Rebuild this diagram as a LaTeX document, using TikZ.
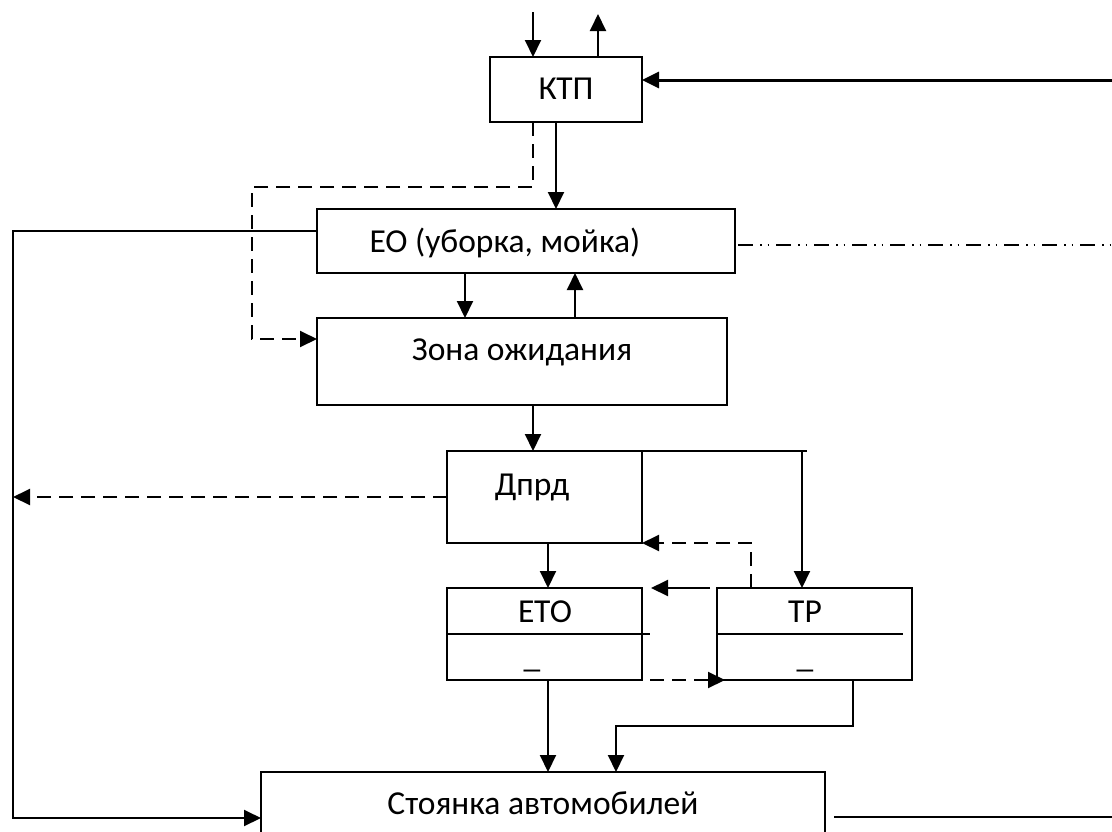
\documentclass[tikz,border=0pt]{standalone}
\usepackage{fontspec}
\setmainfont{Carlito}
\usetikzlibrary{arrows.meta}
\begin{document}
\begin{tikzpicture}[x=1pt,y=-1pt,
  box/.style={draw, line width=2pt, rectangle, inner sep=0pt, outer sep=0pt},
  lbl/.style={inner sep=0pt, font=\fontsize{33.5}{38}\selectfont},
  ln/.style={line width=2pt},
  arr/.style={ln, -{Triangle[length=17pt,width=16pt]}},
  dsh/.style={dash pattern=on 14pt off 8pt},
  dd/.style={line width=2pt, dash pattern=on 15pt off 7pt on 1.5pt off 6pt on 1.5pt off 7pt}]
\useasboundingbox (0,0) rectangle (1112,831);
\clip (0,0) rectangle (1112,831);
% boxes
\node[box, minimum width=152pt, minimum height=65pt] (ktp) at (566,89.5) {};
\node[box, minimum width=418pt, minimum height=64pt] (eo) at (526,241) {};
\node[box, minimum width=410pt, minimum height=87pt] (zona) at (522,361.5) {};
\node[box, minimum width=195pt, minimum height=92pt] (dprd) at (544.5,497) {};
\node[box, minimum width=195pt, minimum height=92pt] (eto) at (544.5,634) {};
\node[box, minimum width=195pt, minimum height=92pt] (tr) at (814.5,634) {};
\node[box, minimum width=564pt, minimum height=98pt] (st) at (543,821) {};
% labels
\node[lbl] (ktpT) at (566,89) {КТП};
\node[lbl] (eoT) at (505,243) {ЕО (уборка, мойка)};
\node[lbl] (zonaT) at (522,352) {Зона ожидания};
\node[lbl] (dprdT) at (532,487) {Дпрд};
\node[lbl] (etoT) at (545,612) {ЕТО};
\node[lbl] (trT) at (805,612) {ТР};
\node[lbl, anchor=base] (etoU) at (532,667) {\_};
\node[lbl, anchor=base] (trU) at (805,667) {\_};
\node[lbl] (stT) at (543,803) {Стоянка автомобилей};
% dividers
\draw[ln] (eto.west) -- ++(203,0);
\draw[ln] (tr.west) -- ++(186,0);
% connectors
\coordinate (t1) at (533,12);
\coordinate (t2) at (598,14);
\coordinate (r1) at (1112,80);
\coordinate (r2) at (1112,245);
\coordinate (r3) at (1112,817);
\coordinate (l1) at (13,497);
\coordinate (lc) at (13,231);
\coordinate (dc) at (252,187);
\coordinate (k) at (616,726);
\draw[arr] (t1) -- (t1 |- ktp.north);
\draw[arr] (t2 |- ktp.north) -- (t2);
\draw[arr, line width=3pt] (r1) -- (ktp.east |- r1);
\draw[arr] ([xshift=-10pt]ktp.south) -- ([xshift=-10pt]ktp.south |- eo.north);
\draw[arr, dsh] ([xshift=-33pt]ktp.south) |- (dc) |- ([yshift=22.5pt]zona.west);
\draw[arr] ([yshift=10pt]eo.west) -- (lc) |- ([yshift=3pt]st.west);
\draw[dd] ([xshift=3pt,yshift=-4pt]eo.east) -- (r2);
\draw[arr] ([xshift=-61pt]eo.south) -- ([xshift=-61pt]eo.south |- zona.north);
\draw[arr] ([xshift=49pt]eo.south |- zona.north) -- ([xshift=49pt]eo.south);
\draw[arr] ([xshift=11pt]zona.south) -- ([xshift=11pt]zona.south |- dprd.north);
\draw[ln] ([xshift=-9pt]dprd.north east) -- ++(174,0);
\draw[arr] ([xshift=-12.5pt]tr.north |- dprd.north) -- ([xshift=-12.5pt]tr.north);
\draw[arr, dsh] (dprd.west) -- (l1);
\draw[arr] ([xshift=3.5pt]dprd.south) -- ([xshift=3.5pt]dprd.south |- eto.north);
\draw[arr, dsh] ([xshift=-63.5pt]tr.north) |- (dprd.south east);
\draw[arr] ([xshift=-7pt]tr.north west) -- ([xshift=9pt]eto.north east);
\draw[arr, dsh] ([xshift=8pt]eto.south east) -- ([xshift=8pt]tr.south west);
\draw[arr] ([xshift=3.5pt]eto.south) -- ([xshift=3.5pt]eto.south |- st.north);
\draw[arr] ([xshift=38.5pt]tr.south) |- (k) -- (k |- st.north);
\draw[ln] ([xshift=9pt,yshift=4pt]st.east) -- (r3);
\end{tikzpicture}
\end{document}
